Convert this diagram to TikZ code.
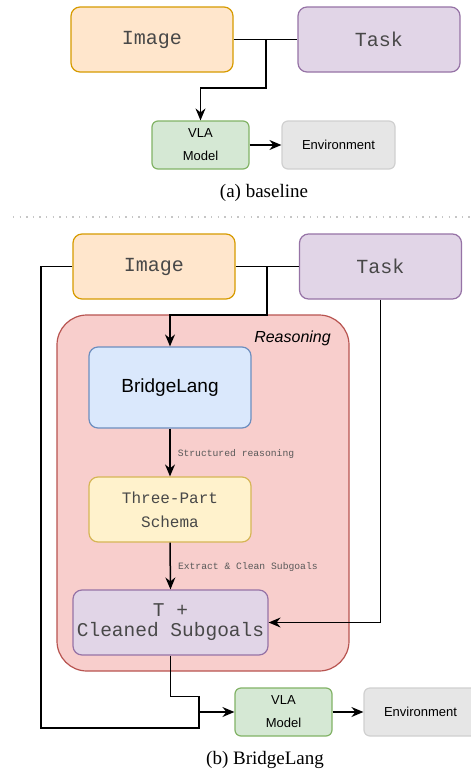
\documentclass[tikz,border=0pt]{standalone}
\usepackage{fontspec}
\setmainfont{Liberation Serif}
\setsansfont{Liberation Sans}
\setmonofont{Liberation Mono}
\usetikzlibrary{arrows.meta}

\definecolor{imgfill}{HTML}{FFE6CC}\definecolor{imgdraw}{HTML}{D79B00}
\definecolor{taskfill}{HTML}{E1D5E7}\definecolor{taskdraw}{HTML}{9673A6}
\definecolor{vlafill}{HTML}{D5E8D4}\definecolor{vladraw}{HTML}{82B366}
\definecolor{envfill}{HTML}{E6E6E6}\definecolor{envdraw}{HTML}{D0D0D0}
\definecolor{reasfill}{HTML}{F8CECC}\definecolor{reasdraw}{HTML}{B85450}
\definecolor{blfill}{HTML}{DAE8FC}\definecolor{bldraw}{HTML}{6C8EBF}
\definecolor{schfill}{HTML}{FFF2CC}\definecolor{schdraw}{HTML}{D6B656}
\definecolor{monotext}{HTML}{484848}

\tikzset{
  box/.style={rounded corners=9pt, line width=1.2pt, inner sep=0pt, align=center},
  smallbox/.style={rounded corners=6pt, line width=1.2pt, inner sep=0pt, align=center,
    minimum width=97pt, minimum height=48pt},
  inputbox/.style={box, minimum width=162pt, minimum height=65pt,
    font=\fontsize{20}{24}\selectfont\ttfamily, text=monotext},
  conn/.style={line width=1.5pt, black},
  arr/.style={conn, -{Stealth[length=12pt, width=10pt, inset=4pt]}},
  edgelabel/.style={font=\fontsize{9.7}{12}\selectfont\ttfamily, text=black!65,
    inner sep=0pt, anchor=west},
  caption/.style={font=\fontsize{19}{22}\selectfont\rmfamily},
}

\begin{document}
\begin{tikzpicture}[x=1pt, y=-1pt]
  % page frame
  \useasboundingbox[fill=white] (0,0) rectangle (471,772);

  % ---------- (a) baseline ----------
  \node[inputbox, fill=imgfill, draw=imgdraw] (imgA) at (152,39.5) {Image};
  \node[inputbox, fill=taskfill, draw=taskdraw] (taskA) at (379,39.5) {Task};
  \node[smallbox, fill=vlafill, draw=vladraw, font=\fontsize{13}{23}\selectfont\sffamily]
    (vlaA) at (200.5,145) {VLA\\Model};
  \node[smallbox, minimum width=113pt, fill=envfill, draw=envdraw,
    font=\fontsize{13}{16}\selectfont\sffamily] (envA) at (338.5,145) {Environment};
  \coordinate (jA) at (266,39.5);
  \draw[conn] (imgA.east) -- (taskA.west);
  \draw[arr] (jA) -- ++(0,48.5) -| (vlaA.north);
  \draw[arr] (vlaA.east) -- (envA.west);
  \node[caption] (capA) at (264,193) {(a) baseline};

  % separator
  \draw[gray!45, line width=1.3pt, dash pattern=on 1.3pt off 5.3pt] (13,217) -- (471,217);

  % ---------- (b) BridgeLang ----------
  \node[rounded corners=30pt, line width=1.2pt, fill=reasfill, draw=reasdraw,
    minimum width=292pt, minimum height=356pt, inner sep=0pt] (reason) at (203,493) {};
  \node[font=\fontsize{16}{19}\selectfont\sffamily\itshape, inner sep=0pt, anchor=east]
    (reasonlbl) at (331,338) {Reasoning};

  \node[inputbox, fill=imgfill, draw=imgdraw] (imgB) at (154,266.5) {Image};
  \node[inputbox, fill=taskfill, draw=taskdraw] (taskB) at (380.5,266.5) {Task};

  \node[box, minimum width=162pt, minimum height=81pt, fill=blfill, draw=bldraw,
    font=\fontsize{19}{22}\selectfont\sffamily] (bridge) at (170,387.5) {BridgeLang};
  \node[box, minimum width=162pt, minimum height=65pt, fill=schfill, draw=schdraw,
    font=\fontsize{16}{24}\selectfont\ttfamily, text=monotext]
    (schema) at (170,509.5) {Three-Part\\Schema};
  \node[box, minimum width=195pt, minimum height=65pt, fill=taskfill, draw=taskdraw,
    font=\fontsize{19.5}{20}\selectfont\ttfamily, text=monotext]
    (cleaned) at (170.5,622.5) {T +\\Cleaned Subgoals};

  \node[smallbox, fill=vlafill, draw=vladraw, font=\fontsize{13}{23}\selectfont\sffamily]
    (vlaB) at (283.5,712) {VLA\\Model};
  \node[smallbox, minimum width=113pt, fill=envfill, draw=envdraw,
    font=\fontsize{13}{16}\selectfont\sffamily] (envB) at (420.5,712) {Environment};

  \coordinate (jB) at (267,266.5);
  \coordinate (mergeB) at (199,712);

  \draw[conn] (imgB.east) -- (taskB.west);
  \draw[arr] (jB) -- (267,315) -| (bridge.north);
  \draw[arr] (bridge.south) -- (schema.north)
    node[edgelabel, midway, xshift=7pt, yshift=-1pt] (lblA) {Structured reasoning};
  \draw[arr] (schema.south) -- (cleaned.north)
    node[edgelabel, midway, xshift=7pt, yshift=-1pt] (lblB) {Extract \& Clean Subgoals};
  \draw[arr] (taskB.south) |- (cleaned.east);
  \draw[conn] (cleaned.south) -- ++(0,41) -| (mergeB);
  \draw[arr] (imgB.west) -| (41,728) -| (mergeB) -- (vlaB.west);
  \draw[arr] (vlaB.east) -- (envB.west);

  \node[caption] (capB) at (265,760) {(b) BridgeLang};
\end{tikzpicture}
\end{document}
